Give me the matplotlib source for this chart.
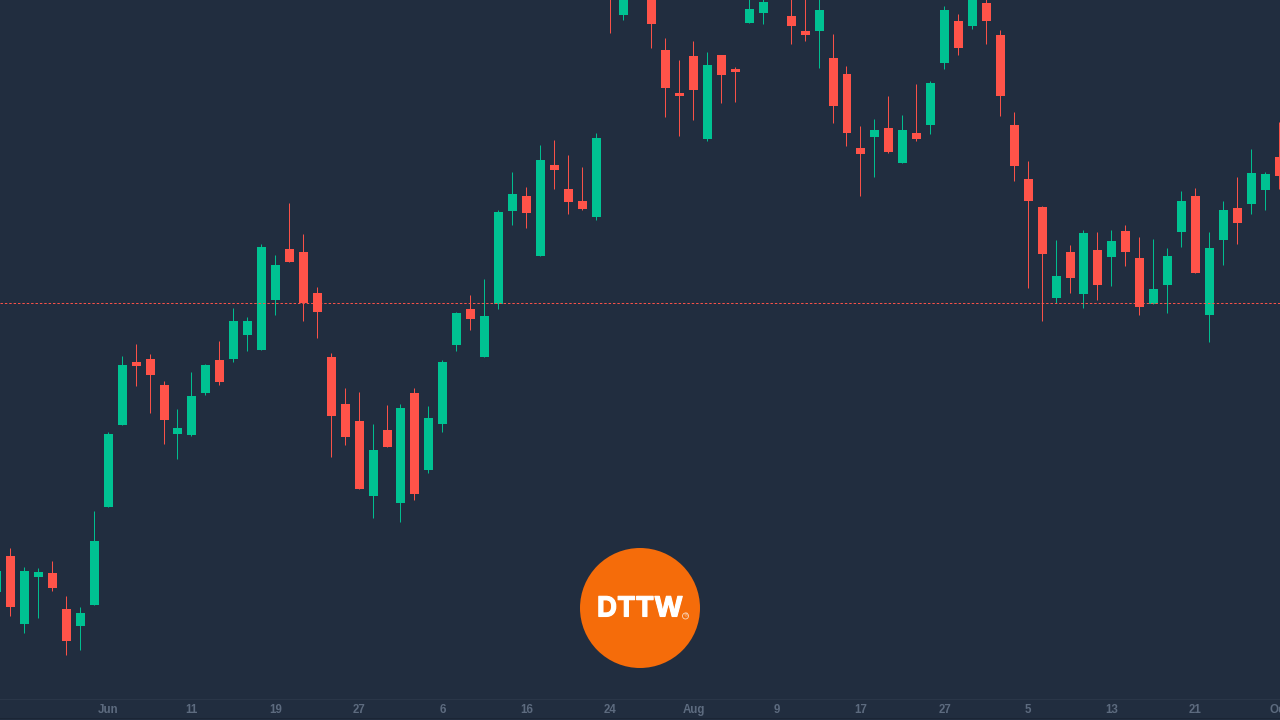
import matplotlib
matplotlib.use("Agg")
from matplotlib import pyplot as plt
from matplotlib import patheffects
from matplotlib.lines import Line2D
from matplotlib.patches import Circle

# candles, no price axis shown so the scale is arbitrary
opens = [128, 164, 96, 143, 147, 111, 94, 115, 213, 295, 358, 361, 335, 286, 285, 327,
         360, 361, 385, 370, 420, 471, 468, 427, 363, 316, 299, 224, 290, 217, 327, 250,
         296, 375, 411, 363, 416, 509, 524, 464, 555, 531, 519, 503, 750, 705, 760, 735,
         670, 627, 664, 581, 665, 651, 697, 707, 742, 704, 689, 689, 662, 646, 572, 583,
         592, 557, 587, 595, 657, 699, 694, 717, 685, 595, 541, 513, 422, 468, 426, 470,
         463, 489, 462, 416, 435, 488, 524, 405, 480, 512, 516, 530, 563]
highs = [155, 172, 153, 152, 159, 124, 113, 209, 288, 364, 376, 366, 339, 311, 348, 356,
         379, 412, 403, 476, 465, 517, 486, 433, 367, 332, 328, 296, 315, 316, 332, 314,
         360, 408, 425, 441, 510, 548, 533, 575, 580, 565, 553, 587, 760, 745, 770, 745,
         682, 660, 679, 668, 665, 653, 728, 723, 750, 730, 726, 724, 686, 654, 594, 601,
         624, 605, 636, 639, 714, 706, 726, 724, 690, 608, 559, 514, 480, 475, 490, 488,
         490, 495, 483, 481, 472, 529, 532, 488, 519, 543, 571, 548, 598]
lows = [124, 104, 87, 102, 129, 65, 70, 115, 213, 295, 334, 307, 276, 261, 284, 325,
        335, 358, 369, 370, 405, 458, 399, 382, 263, 275, 231, 202, 273, 198, 220, 247,
        288, 369, 390, 363, 411, 495, 492, 464, 531, 506, 510, 500, 687, 700, 728, 672,
        603, 584, 600, 579, 617, 618, 697, 696, 723, 676, 679, 652, 597, 574, 524, 543,
        567, 557, 579, 586, 651, 665, 691, 676, 604, 539, 432, 399, 417, 427, 412, 420,
        434, 454, 405, 416, 407, 473, 447, 378, 455, 476, 506, 510, 531]
closes = [149, 113, 149, 148, 132, 79, 107, 179, 286, 355, 354, 345, 300, 292, 324, 355,
          338, 399, 399, 473, 455, 458, 417, 408, 304, 283, 231, 270, 273, 312, 226, 302,
          358, 407, 401, 404, 508, 526, 507, 560, 550, 518, 511, 582, 725, 732, 740, 696,
          632, 624, 630, 655, 645, 648, 711, 718, 730, 694, 685, 710, 614, 587, 566, 590,
          568, 590, 581, 637, 710, 672, 723, 699, 624, 554, 519, 466, 444, 442, 487, 435,
          479, 468, 413, 431, 464, 519, 447, 472, 510, 497, 547, 546, 544]
last_price = 417

tick_candles = [7, 13, 19, 25, 31, 37, 43, 49, 55, 61, 67, 73, 79, 85, 91]
tick_labels = ["Jun", "11", "19", "27", "6", "16", "24", "Aug", "9", "17", "27", "5", "13", "21", "Oct"]

bg = "#212D3F"
up_color = "#00C292"
down_color = "#FF5349"

# first candle only just pokes in at the left edge
xs = list(range(-1, len(opens) - 1))
colors = [up_color if c >= o else down_color for o, c in zip(opens, closes)]

fig = plt.figure(figsize=(12.8, 7.2), dpi=100, facecolor=bg)
ax = fig.add_axes([0, 21 / 720, 1, 699 / 720], facecolor=bg)

# half a pixel left so the snapped wick lands in the middle of the 9px body
wick_xs = [x - 0.036 for x in xs]
wicks = ax.vlines(wick_xs, lows, highs, colors=colors, linewidth=0.7, zorder=2)
wicks.set_snap(True)
ax.bar(xs, [c - o for o, c in zip(opens, closes)], bottom=opens, width=0.645,
       color=colors, linewidth=0, zorder=3)
ax.axhline(last_price, color=down_color, linewidth=0.7, linestyle=(0, (2.5, 2)), zorder=4)

ax.set_xlim(-0.7688, 91.066)
ax.set_ylim(21, 720)
ax.set_yticks([])
ax.set_xticks(tick_candles)
ax.set_xticklabels(tick_labels, family="Liberation Sans", fontweight="bold",
                   fontsize=8.3, color="#5D6B7F")
ax.tick_params(axis="x", length=0, pad=3.5)
for side in ["top", "left", "right"]:
    ax.spines[side].set_visible(False)
ax.spines["bottom"].set_color("#2A3648")
ax.spines["bottom"].set_linewidth(0.72)

fig.add_artist(Line2D([0, 1], [2.5 / 720, 2.5 / 720], color="#1B2535", linewidth=0.72))

# logo
logo = fig.add_axes([580 / 1280, 52 / 720, 120 / 1280, 120 / 720])
logo.set_xlim(0, 120)
logo.set_ylim(0, 120)
logo.axis("off")
logo.add_patch(Circle((60, 60), 60, facecolor="#F56C0A", edgecolor="none"))
name = logo.text(60, 61.5, "DTTW", color="white", family="Inter", fontweight="bold",
                 fontsize=20, ha="center", va="center_baseline")
name.set_path_effects([patheffects.withStroke(linewidth=0.8, foreground="white")])
logo.add_patch(Circle((105.5, 52), 3, facecolor="none", edgecolor="#FBD9BF", linewidth=0.6))
logo.text(105.5, 52, "®", color="#FBD9BF", family="DejaVu Sans", fontsize=3.5,
          ha="center", va="center")

fig.savefig("out.png", dpi=100, facecolor=bg)
